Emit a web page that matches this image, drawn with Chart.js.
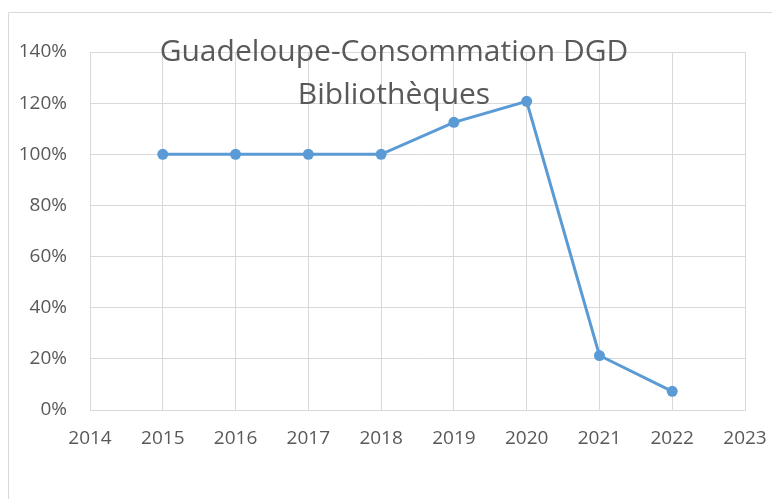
<!DOCTYPE html>
<html>
<head>
<meta charset="utf-8">
<script src="https://cdn.jsdelivr.net/npm/chart.js@4/dist/chart.umd.min.js"></script>
<style>
  html, body { margin: 0; padding: 0; background: #fff; }
  #wrap { width: 772px; height: 499px; }
</style>
</head>
<body>
<div id="wrap"><canvas id="chart" width="772" height="499"></canvas></div>
<script>
const titleLines = ['Guadeloupe-Consommation DGD', 'Bibliothèques'];
const years = [2015, 2016, 2017, 2018, 2019, 2020, 2021, 2022];
const consumption = [100, 100, 100, 100, 112.5, 120.7, 21.3, 7.3]; // en %
const xMin = 2014, xMax = 2023;
const yMin = 0, yMax = 140, yStep = 20;

const textColor = '#595959';
const gridColor = '#d9d9d9';
const lineColor = '#5b9bd5';
const fontFamily = "'Open Sans', 'Liberation Sans', sans-serif";

// cadre gris autour du graphique + titre par-dessus la zone de tracé
const frameAndTitle = {
    id: 'frameAndTitle',
    beforeDraw(c) {
        const ctx = c.ctx;
        ctx.save();
        ctx.strokeStyle = gridColor;
        ctx.lineWidth = 1;
        ctx.beginPath();
        ctx.moveTo(8.5, c.height);
        ctx.lineTo(8.5, 12.5);
        ctx.lineTo(c.width, 12.5);
        ctx.stroke();
        ctx.restore();
    },
    afterDraw(c) {
        const ctx = c.ctx;
        ctx.save();
        ctx.fillStyle = textColor;
        ctx.font = '30px ' + fontFamily;
        ctx.textAlign = 'center';
        ctx.textBaseline = 'middle';
        ctx.fillText(titleLines[0], 394, 52);
        ctx.fillText(titleLines[1], 394, 95);
        ctx.restore();
    }
};

const ctx = document.getElementById('chart').getContext('2d');
const chart = new Chart(ctx, {
    type: 'line',
    data: {
        datasets: [{
            data: years.map((y, i) => ({ x: y, y: consumption[i] })),
            borderColor: lineColor,
            backgroundColor: lineColor,
            borderWidth: 3,
            pointRadius: 5.5,
            pointBorderWidth: 0,
            tension: 0
        }]
    },
    options: {
        responsive: false,
        animation: false,
        layout: { padding: { top: 52, right: 27, left: 0, bottom: 0 } },
        plugins: {
            legend: { display: false },
            title: { display: false },
            tooltip: { enabled: false }
        },
        scales: {
            x: {
                type: 'linear',
                min: xMin,
                max: xMax,
                afterFit: s => {
                    s.height = 89;
                    s.paddingLeft = 0;
                    s.paddingRight = 0;
                },
                ticks: {
                    stepSize: 1,
                    color: textColor,
                    font: { family: fontFamily, size: 19 },
                    padding: 17,
                    callback: v => String(v)
                },
                grid: { color: gridColor, drawTicks: false },
                border: { color: gridColor }
            },
            y: {
                min: yMin,
                max: yMax,
                afterFit: s => {
                    s.width = 90;
                    s.paddingTop = 0;
                    s.paddingBottom = 0;
                },
                ticks: {
                    stepSize: yStep,
                    color: textColor,
                    font: { family: fontFamily, size: 19 },
                    padding: 23,
                    callback: v => v + '%'
                },
                grid: { color: gridColor, drawTicks: false },
                border: { display: false }
            }
        }
    },
    plugins: [frameAndTitle]
});
</script>
</body>
</html>
